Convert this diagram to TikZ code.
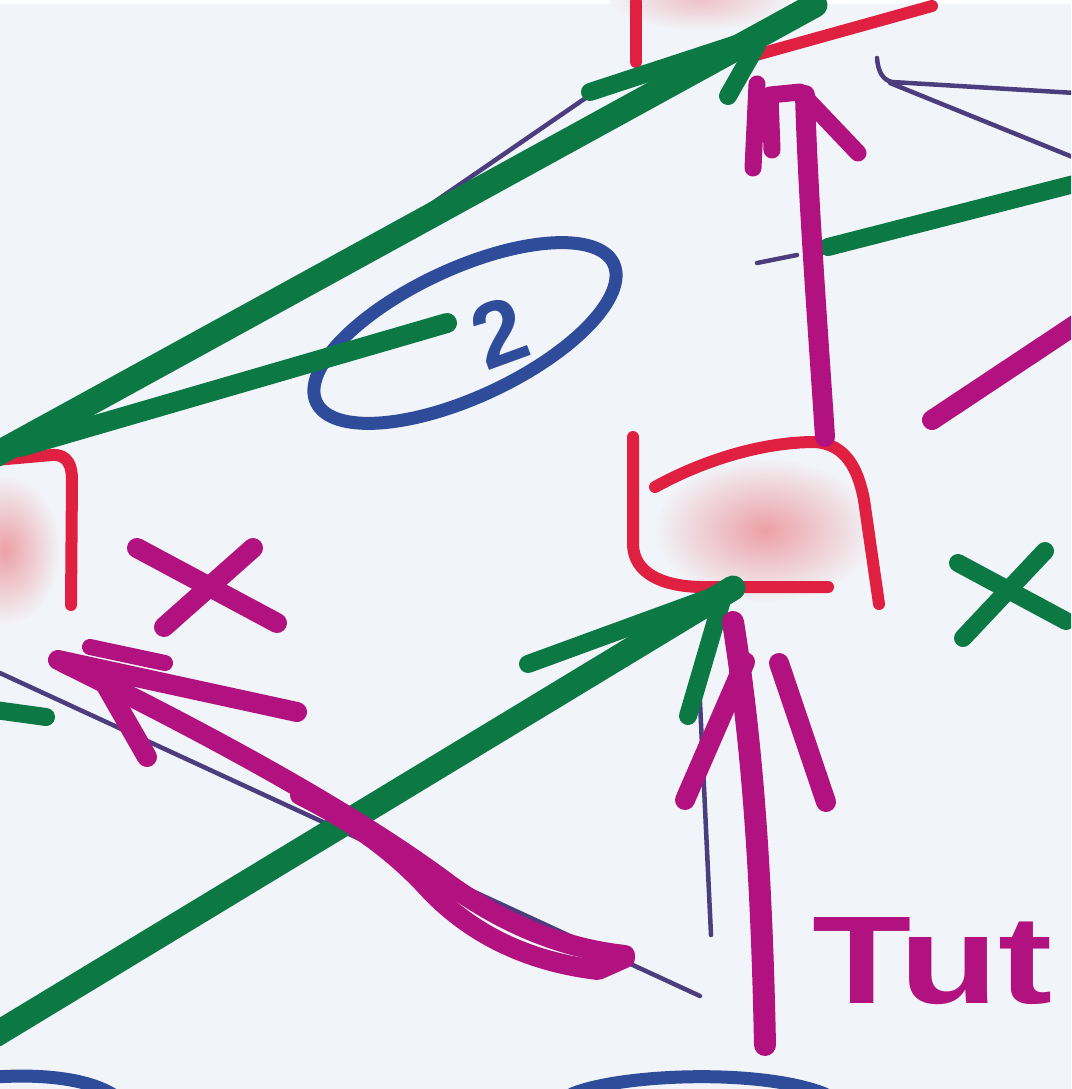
\documentclass[tikz,border=0pt]{standalone}
\usepackage{fontspec}
\newfontfamily\sketchfont{Liberation Sans}
\definecolor{bgc}{RGB}{241,244,248}
\definecolor{skgreen}{RGB}{12,121,68}
\definecolor{skmag}{RGB}{178,18,128}
\definecolor{skred}{RGB}{224,32,64}
\definecolor{skblue}{RGB}{47,76,154}
\definecolor{skpurple}{RGB}{76,62,126}
\definecolor{blobpink}{RGB}{236,160,166}
\begin{document}
\begin{tikzpicture}[x=1pt,y=-1pt,line cap=round,line join=round,
  grn/.style={draw=skgreen,line width=25pt},
  grnthin/.style={draw=skgreen,line width=18pt},
  mag/.style={draw=skmag,line width=20pt},
  redl/.style={draw=skred,line width=12pt},
  bluel/.style={draw=skblue,line width=13pt},
  purl/.style={draw=skpurple,line width=4.5pt}]
\useasboundingbox (0,0) rectangle (1071,1089);
\clip (0,0) rectangle (1071,1089);
\fill[bgc] (0,0) rectangle (1071,1089);
\fill[white] (0,0) rectangle (1071,4);
% pink blobs
\shade[inner color=blobpink,outer color=bgc] (765,530) ellipse [x radius=110pt,y radius=72pt];
\shade[inner color=blobpink,outer color=bgc] (5,550) ellipse [x radius=55pt,y radius=75pt];
\shade[inner color=blobpink!60!bgc,outer color=bgc] (700,0) ellipse [x radius=90pt,y radius=30pt];
% red shapes
\draw[redl] (636,2) -- (636,62);
\draw[redl] (756,55) -- (932,6);
\draw[redl] (633,437) -- (633,545) .. controls (634,572) and (660,586) .. (700,587) -- (828,587);
\draw[redl] (655,487) .. controls (700,462) and (760,442) .. (815,442) .. controls (845,444) and (858,468) .. (864,500) -- (879,604);
\draw[redl] (-5,460) -- (52,455) .. controls (68,454) and (72,466) .. (72,480) -- (71,605);
% blue
\draw[bluel,rotate around={25:(465,333)}] (465,333) ellipse [x radius=164pt,y radius=64pt];
\node[text=skblue,font=\sketchfont\bfseries\fontsize{92}{94}\selectfont,rotate=20,inner sep=0] (two) at (500,333) {2};
\draw[bluel] (-5,1077) .. controls (40,1074) and (85,1078) .. (112,1094);
\draw[bluel] (572,1094) .. controls (620,1074) and (760,1068) .. (825,1094);
% thin purple
\draw[purl] (328,275) -- (590,95);
\draw[purl] (757,263) -- (797,255);
\draw[purl] (877,58) .. controls (878,72) and (883,80) .. (892,82) -- (1075,93);
\draw[purl] (890,83) -- (1075,158);
\draw[purl] (0,673) -- (700,996);
\draw[purl] (698,660) -- (711,935);
% green
\draw[grn] (-5,455) -- (815,5);
\draw[grnthin] (590,92) -- (770,33);
\draw[grnthin] (757,45) -- (728,96);
\draw[grn,line width=20pt] (20,447) -- (447,323);
\draw[grnthin] (828,247) -- (1078,183);
\draw[grn] (-5,1035) -- (733,588);
\draw[grnthin] (528,664) -- (725,592);
\draw[grnthin] (722,600) -- (688,716);
\draw[grnthin] (958,563) -- (1066,621);
\draw[grnthin] (1045,551) -- (963,638);
\draw[grnthin] (-5,710) -- (46,717);
% magenta
\draw[mag] (825,437) .. controls (818,330) and (808,200) .. (805,95);
\draw[mag,line width=17pt] (753,168) -- (757,84);
\draw[mag,line width=17pt] (772,150) -- (770,95) -- (800,92) -- (858,153);
\draw[mag] (932,420) -- (1078,323);
\draw[mag] (137,548) -- (277,623);
\draw[mag] (253,548) -- (164,627);
\draw[mag] (58,660) -- (297,712);
\draw[mag,line width=16pt] (90,647) -- (165,663);
\draw[mag] (100,675) -- (147,757);
\draw[mag] (62,662) .. controls (200,730) and (350,810) .. (450,885) .. controls (520,935) and (580,950) .. (625,955);
\draw[mag] (625,958) -- (598,970) .. controls (530,962) and (470,935) .. (425,885) .. controls (390,848) and (350,820) .. (300,795);
\draw[mag,line width=22pt] (765,1045) .. controls (762,900) and (755,760) .. (733,622);
\draw[mag] (685,800) -- (745,662);
\draw[mag] (779,663) -- (826,802);
\node[anchor=base west,text=skmag,font=\sketchfont\bfseries\fontsize{125}{130}\selectfont,xscale=1.3,inner sep=0] (tut) at (812,1003) {Tut};
\end{tikzpicture}
\end{document}
